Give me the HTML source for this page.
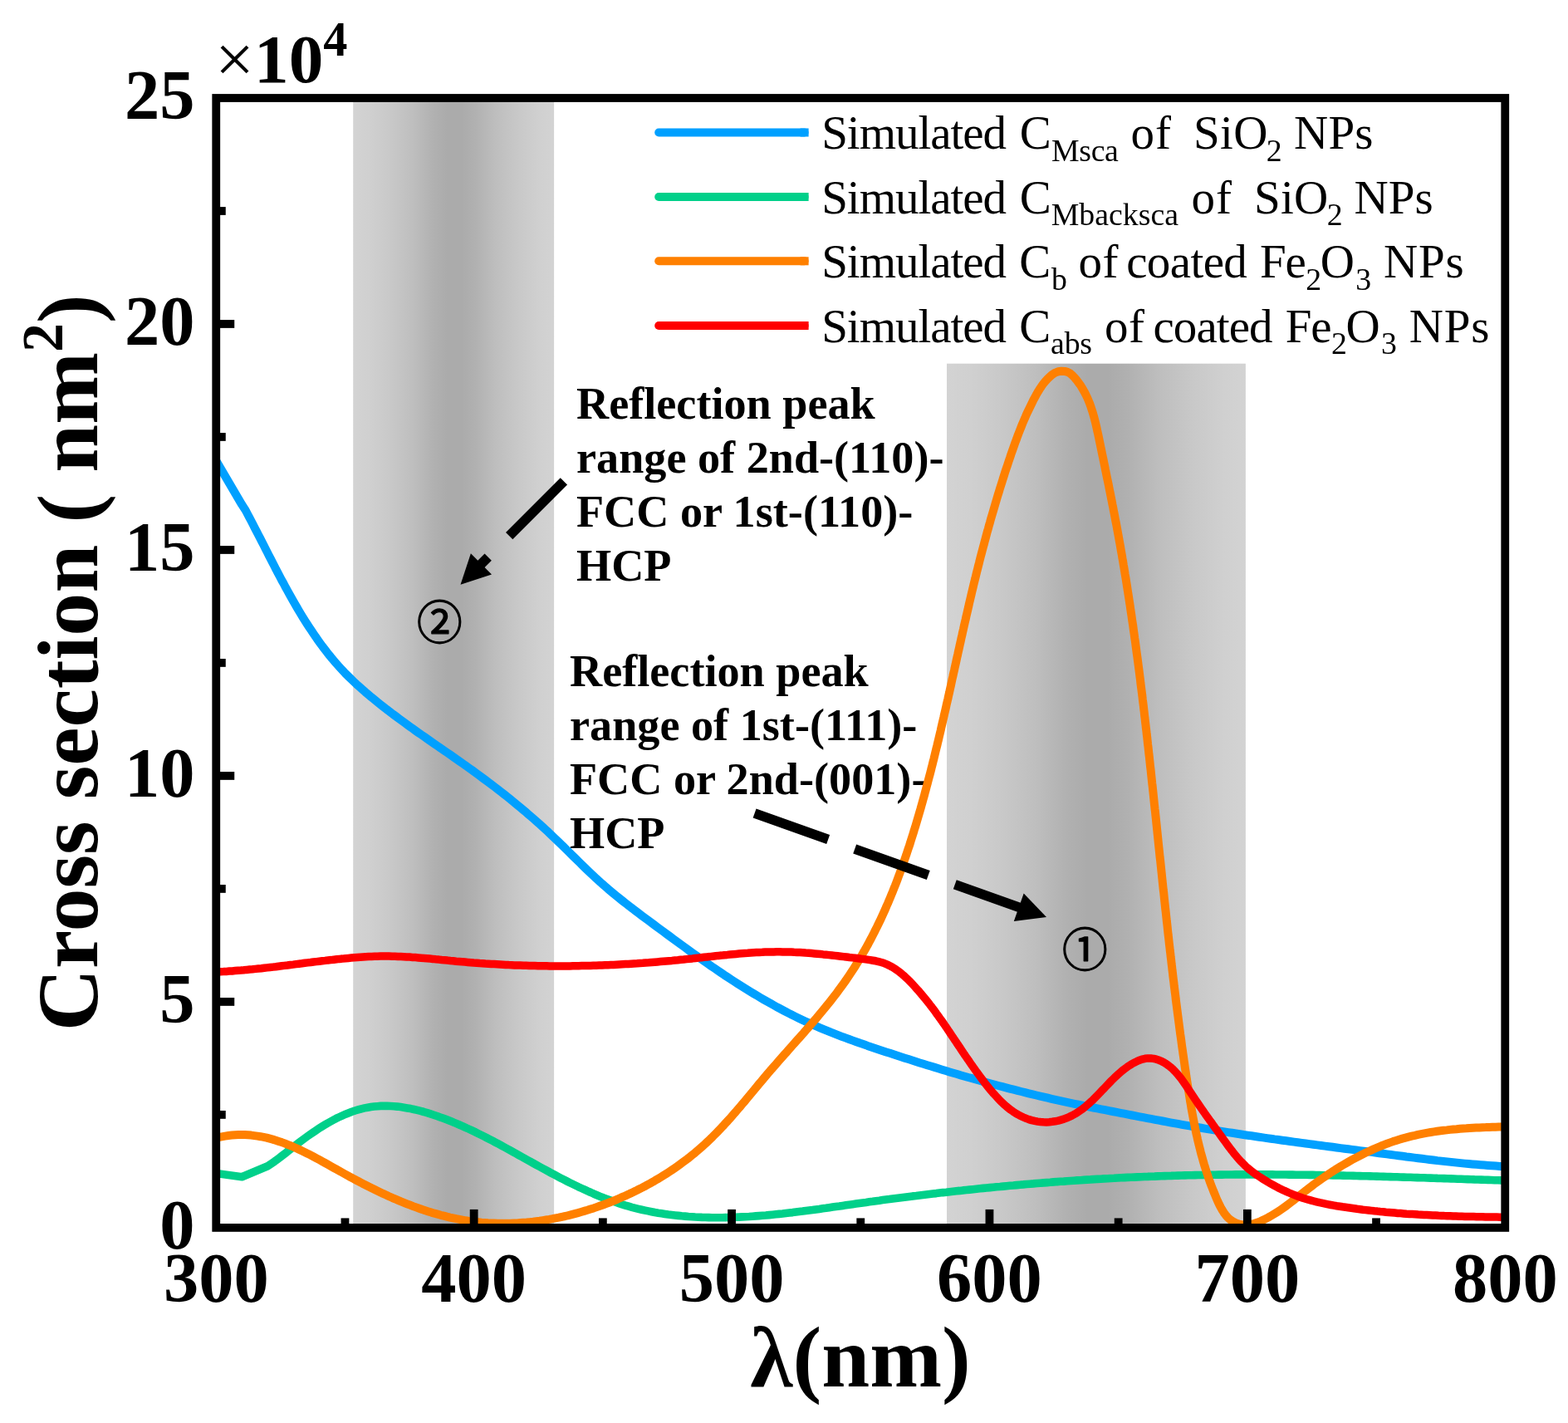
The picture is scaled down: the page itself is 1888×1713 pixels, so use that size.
<!DOCTYPE html>
<html lang="en"><head><meta charset="utf-8"><title>Cross section vs wavelength</title>
<style>html,body{margin:0;padding:0;background:#fff;}body{width:1888px;height:1713px;overflow:hidden;}svg{display:block;}text{font-family:"Liberation Serif","DejaVu Serif",serif;fill:#000;}.b{font-weight:bold;}.cjk{font-family:"Noto Sans CJK SC","Noto Sans CJK JP","DejaVu Sans",sans-serif;}</style></head><body>
<svg xmlns="http://www.w3.org/2000/svg" width="1888" height="1713" viewBox="0 0 1888 1713">
<defs>
<linearGradient id="g1" x1="0" y1="0" x2="1" y2="0"><stop offset="0" stop-color="#d3d3d3"/><stop offset="0.08" stop-color="#d0d0d0"/><stop offset="0.18" stop-color="#c9c9c9"/><stop offset="0.3" stop-color="#bebebe"/><stop offset="0.4" stop-color="#b1b1b1"/><stop offset="0.47" stop-color="#ababab"/><stop offset="0.54" stop-color="#ababab"/><stop offset="0.61" stop-color="#b1b1b1"/><stop offset="0.71" stop-color="#bebebe"/><stop offset="0.83" stop-color="#c9c9c9"/><stop offset="0.93" stop-color="#d0d0d0"/><stop offset="1" stop-color="#d3d3d3"/></linearGradient>
<clipPath id="plot"><rect x="260.25" y="118.00" width="1552.00" height="1359.90"/></clipPath>
</defs>
<rect width="1888" height="1713" fill="#ffffff"/>
<rect x="425.20" y="118.00" width="241.90" height="1359.90" fill="url(#g1)"/>
<rect x="1140.00" y="437.70" width="359.90" height="1040.20" fill="url(#g1)"/>
<text class="b" x="694.00" y="504.00" font-size="54.20">Reflection peak</text>
<text class="b" x="694.00" y="569.00" font-size="54.20">range of 2nd-(110)-</text>
<text class="b" x="694.00" y="634.30" font-size="54.20">FCC or 1st-(110)-</text>
<text class="b" x="694.00" y="698.80" font-size="54.20">HCP</text>
<text class="b" x="686.00" y="825.80" font-size="54.20">Reflection peak</text>
<text class="b" x="686.00" y="890.70" font-size="54.20">range of 1st-(111)-</text>
<text class="b" x="686.00" y="956.20" font-size="54.20">FCC or 2nd-(001)-</text>
<text class="b" x="686.00" y="1020.60" font-size="54.20">HCP</text>
<g clip-path="url(#plot)" fill="none" stroke-linejoin="round" stroke-linecap="butt">
<path d="M255.00 545.60 L260.20 554.60 L291.30 607.60 L295.80 614.50 L298.00 618.70 L300.20 622.80 L302.40 627.00 L304.60 631.20 L306.70 635.40 L308.90 639.60 L311.00 643.70 L313.20 647.90 L315.30 652.10 L317.50 656.30 L319.60 660.50 L321.80 664.70 L323.90 668.90 L326.10 673.10 L328.20 677.30 L330.40 681.50 L332.50 685.70 L334.70 689.80 L336.90 694.00 L339.10 698.20 L341.40 702.30 L343.60 706.50 L345.90 710.60 L348.10 714.70 L350.40 718.80 L352.80 723.00 L355.10 727.00 L357.50 731.10 L359.90 735.20 L362.30 739.20 L364.80 743.30 L367.30 747.30 L369.80 751.20 L372.40 755.20 L375.00 759.10 L377.60 763.00 L380.30 766.90 L383.00 770.80 L385.70 774.60 L388.50 778.40 L391.40 782.10 L394.20 785.80 L397.20 789.50 L400.10 793.10 L403.20 796.70 L406.30 800.20 L409.40 803.70 L412.60 807.20 L415.80 810.60 L419.10 813.90 L422.50 817.20 L425.90 820.50 L429.30 823.70 L432.80 826.80 L436.40 830.00 L439.90 833.10 L443.50 836.10 L447.10 839.20 L450.80 842.20 L454.40 845.10 L458.10 848.10 L461.80 851.00 L465.50 853.90 L469.30 856.70 L473.00 859.60 L476.80 862.40 L480.60 865.20 L484.40 868.00 L488.20 870.80 L492.00 873.60 L495.90 876.30 L499.70 879.10 L503.50 881.80 L507.40 884.50 L511.30 887.20 L515.10 889.90 L519.00 892.60 L522.90 895.30 L526.80 898.00 L530.60 900.70 L534.50 903.30 L538.40 906.00 L542.30 908.70 L546.10 911.40 L550.00 914.10 L553.90 916.80 L557.70 919.50 L561.60 922.30 L565.40 925.00 L569.20 927.70 L573.00 930.50 L576.80 933.30 L580.60 936.10 L584.40 938.90 L588.20 941.70 L591.90 944.50 L595.70 947.40 L599.40 950.20 L603.10 953.10 L606.80 956.00 L610.50 958.90 L614.20 961.90 L617.80 964.80 L621.40 967.80 L625.10 970.80 L628.70 973.80 L632.30 976.80 L635.80 979.90 L639.40 983.00 L642.90 986.00 L646.50 989.20 L650.00 992.30 L653.50 995.50 L656.90 998.60 L660.40 1001.80 L663.80 1005.10 L667.20 1008.30 L670.60 1011.60 L674.00 1014.90 L677.40 1018.10 L680.80 1021.50 L684.10 1024.80 L687.50 1028.10 L690.80 1031.40 L694.20 1034.70 L697.60 1038.00 L701.00 1041.30 L704.30 1044.60 L707.70 1047.90 L711.10 1051.10 L714.60 1054.40 L718.00 1057.60 L721.50 1060.70 L725.00 1063.90 L728.60 1067.00 L732.10 1070.10 L735.70 1073.10 L739.30 1076.10 L743.00 1079.10 L746.60 1082.00 L750.30 1085.00 L754.00 1087.90 L757.70 1090.80 L761.50 1093.60 L765.20 1096.50 L768.90 1099.30 L772.70 1102.20 L776.50 1105.00 L780.30 1107.80 L784.00 1110.60 L787.80 1113.40 L791.60 1116.20 L795.40 1119.00 L799.20 1121.80 L803.00 1124.60 L806.80 1127.40 L810.60 1130.20 L814.40 1133.00 L818.20 1135.80 L822.00 1138.50 L825.80 1141.30 L829.60 1144.10 L833.40 1146.80 L837.30 1149.50 L841.10 1152.30 L844.90 1155.00 L848.80 1157.70 L852.70 1160.40 L856.50 1163.10 L860.40 1165.70 L864.30 1168.40 L868.20 1171.00 L872.10 1173.70 L876.10 1176.30 L880.00 1178.90 L883.90 1181.40 L887.90 1184.00 L891.90 1186.50 L895.90 1189.00 L899.90 1191.50 L903.90 1194.00 L907.90 1196.40 L912.00 1198.80 L916.00 1201.20 L920.10 1203.60 L924.20 1205.90 L928.30 1208.20 L932.40 1210.50 L936.50 1212.80 L940.70 1215.00 L944.90 1217.20 L949.00 1219.40 L953.20 1221.50 L957.40 1223.60 L961.70 1225.70 L965.90 1227.70 L970.20 1229.70 L974.40 1231.60 L978.70 1233.60 L983.00 1235.40 L987.40 1237.30 L991.70 1239.10 L996.10 1240.90 L1000.40 1242.70 L1004.80 1244.40 L1009.20 1246.10 L1013.60 1247.80 L1018.00 1249.40 L1022.40 1251.00 L1026.80 1252.60 L1031.30 1254.20 L1035.70 1255.80 L1040.20 1257.30 L1044.60 1258.90 L1049.10 1260.40 L1053.60 1261.90 L1058.00 1263.40 L1062.50 1264.90 L1067.00 1266.40 L1071.50 1267.80 L1075.90 1269.30 L1080.40 1270.80 L1084.90 1272.20 L1089.40 1273.70 L1093.90 1275.10 L1098.40 1276.50 L1102.90 1278.00 L1107.40 1279.40 L1111.90 1280.80 L1116.40 1282.20 L1120.90 1283.60 L1125.40 1284.90 L1129.90 1286.30 L1134.40 1287.70 L1138.90 1289.00 L1143.40 1290.40 L1147.90 1291.70 L1152.50 1293.00 L1157.00 1294.40 L1161.50 1295.70 L1166.00 1297.00 L1170.60 1298.20 L1175.10 1299.50 L1179.60 1300.80 L1184.20 1302.10 L1188.70 1303.30 L1193.20 1304.50 L1197.80 1305.80 L1202.30 1307.00 L1206.90 1308.20 L1211.40 1309.40 L1216.00 1310.60 L1220.50 1311.70 L1225.10 1312.90 L1229.60 1314.00 L1234.20 1315.20 L1238.80 1316.30 L1243.30 1317.40 L1247.90 1318.50 L1252.50 1319.60 L1257.10 1320.60 L1261.60 1321.70 L1266.20 1322.80 L1270.80 1323.80 L1275.40 1324.80 L1280.00 1325.80 L1284.60 1326.80 L1289.20 1327.80 L1293.80 1328.80 L1298.40 1329.70 L1303.00 1330.70 L1307.60 1331.60 L1312.20 1332.50 L1316.80 1333.50 L1321.40 1334.40 L1326.00 1335.30 L1330.60 1336.20 L1335.20 1337.10 L1339.80 1338.00 L1344.50 1338.90 L1349.10 1339.80 L1353.70 1340.70 L1358.30 1341.60 L1362.90 1342.50 L1367.50 1343.40 L1372.20 1344.30 L1376.80 1345.20 L1381.40 1346.10 L1386.00 1346.90 L1390.70 1347.80 L1395.30 1348.70 L1399.90 1349.50 L1404.50 1350.40 L1409.20 1351.30 L1413.80 1352.10 L1418.40 1352.90 L1423.10 1353.80 L1427.70 1354.60 L1432.40 1355.40 L1437.00 1356.20 L1441.60 1357.00 L1446.30 1357.80 L1450.90 1358.60 L1455.60 1359.40 L1460.20 1360.10 L1464.90 1360.90 L1469.50 1361.60 L1474.20 1362.40 L1478.80 1363.10 L1483.50 1363.80 L1488.10 1364.50 L1492.80 1365.20 L1497.40 1366.00 L1502.10 1366.70 L1506.80 1367.30 L1511.40 1368.00 L1516.10 1368.70 L1520.70 1369.40 L1525.40 1370.10 L1530.10 1370.70 L1534.70 1371.40 L1539.40 1372.00 L1544.10 1372.70 L1548.70 1373.30 L1553.40 1374.00 L1558.10 1374.60 L1562.70 1375.20 L1567.40 1375.90 L1572.10 1376.50 L1576.70 1377.10 L1581.40 1377.80 L1586.10 1378.40 L1590.70 1379.00 L1595.40 1379.60 L1600.10 1380.20 L1604.70 1380.80 L1609.40 1381.50 L1614.10 1382.10 L1618.80 1382.70 L1623.40 1383.30 L1628.10 1383.90 L1632.80 1384.50 L1637.40 1385.10 L1642.10 1385.70 L1646.80 1386.30 L1651.40 1386.90 L1656.10 1387.60 L1660.80 1388.20 L1665.50 1388.80 L1670.10 1389.40 L1674.80 1390.00 L1679.50 1390.60 L1684.10 1391.20 L1688.80 1391.80 L1693.50 1392.50 L1698.10 1393.00 L1702.80 1393.60 L1707.50 1394.20 L1712.20 1394.80 L1716.80 1395.40 L1721.50 1396.00 L1726.20 1396.50 L1730.80 1397.10 L1735.50 1397.60 L1740.20 1398.10 L1744.90 1398.60 L1749.60 1399.10 L1754.20 1399.60 L1758.90 1400.10 L1763.60 1400.60 L1768.30 1401.00 L1773.00 1401.40 L1777.70 1401.80 L1782.40 1402.20 L1787.10 1402.60 L1791.80 1403.00 L1796.50 1403.30 L1801.20 1403.60 L1805.90 1403.90 L1810.60 1404.20 L1815.30 1404.40 L1820.00 1404.70" stroke="#00a0ff" stroke-width="10.00"/>
<path d="M255.00 1411.80 L260.20 1412.50 L291.30 1416.80 L322.30 1403.80 L327.20 1400.50 L330.50 1398.20 L333.70 1395.80 L337.00 1393.40 L340.20 1390.90 L343.50 1388.40 L346.70 1385.80 L350.00 1383.20 L353.30 1380.60 L356.60 1378.10 L359.90 1375.50 L363.20 1373.00 L366.60 1370.50 L370.00 1368.00 L373.40 1365.60 L376.90 1363.20 L380.30 1360.90 L383.80 1358.60 L387.30 1356.40 L390.90 1354.20 L394.40 1352.10 L398.00 1350.10 L401.60 1348.10 L405.20 1346.20 L408.90 1344.50 L412.50 1342.80 L416.20 1341.20 L420.00 1339.70 L423.70 1338.30 L427.50 1337.00 L431.20 1335.90 L435.10 1334.80 L438.90 1333.90 L442.70 1333.20 L446.60 1332.50 L450.50 1332.00 L454.50 1331.70 L458.40 1331.40 L462.40 1331.30 L466.30 1331.40 L470.30 1331.50 L474.30 1331.80 L478.30 1332.10 L482.30 1332.60 L486.30 1333.20 L490.40 1333.90 L494.40 1334.60 L498.40 1335.50 L502.40 1336.40 L506.40 1337.40 L510.40 1338.50 L514.40 1339.70 L518.30 1340.90 L522.30 1342.20 L526.20 1343.50 L530.10 1344.90 L534.00 1346.30 L537.90 1347.80 L541.70 1349.30 L545.50 1350.80 L549.30 1352.40 L553.00 1354.00 L556.80 1355.60 L560.50 1357.30 L564.20 1359.00 L567.80 1360.70 L571.50 1362.40 L575.10 1364.20 L578.70 1366.00 L582.30 1367.80 L585.90 1369.60 L589.50 1371.50 L593.10 1373.30 L596.60 1375.20 L600.20 1377.10 L603.70 1379.00 L607.20 1380.90 L610.80 1382.90 L614.30 1384.80 L617.80 1386.70 L621.30 1388.70 L624.90 1390.70 L628.40 1392.60 L631.90 1394.60 L635.50 1396.60 L639.00 1398.50 L642.50 1400.50 L646.10 1402.50 L649.60 1404.40 L653.20 1406.40 L656.80 1408.30 L660.40 1410.30 L663.90 1412.20 L667.50 1414.10 L671.10 1416.00 L674.70 1417.90 L678.40 1419.80 L682.00 1421.60 L685.60 1423.50 L689.30 1425.30 L692.90 1427.00 L696.60 1428.80 L700.30 1430.50 L704.00 1432.20 L707.70 1433.90 L711.40 1435.50 L715.10 1437.20 L718.80 1438.70 L722.60 1440.30 L726.30 1441.80 L730.10 1443.20 L733.90 1444.60 L737.70 1446.00 L741.60 1447.30 L745.40 1448.60 L749.20 1449.90 L753.10 1451.10 L757.00 1452.20 L760.90 1453.30 L764.80 1454.30 L768.80 1455.30 L772.70 1456.20 L776.70 1457.10 L780.60 1457.90 L784.60 1458.70 L788.60 1459.50 L792.60 1460.20 L796.60 1460.80 L800.70 1461.40 L804.70 1462.00 L808.70 1462.50 L812.80 1463.00 L816.80 1463.40 L820.90 1463.80 L824.90 1464.10 L829.00 1464.50 L833.10 1464.70 L837.10 1465.00 L841.20 1465.20 L845.20 1465.40 L849.30 1465.50 L853.40 1465.60 L857.40 1465.70 L861.50 1465.70 L865.50 1465.70 L869.60 1465.70 L873.60 1465.60 L877.70 1465.50 L881.70 1465.40 L885.80 1465.30 L889.80 1465.10 L893.80 1464.90 L897.90 1464.70 L901.90 1464.50 L906.00 1464.20 L910.00 1463.90 L914.00 1463.60 L918.10 1463.30 L922.10 1463.00 L926.10 1462.60 L930.10 1462.20 L934.20 1461.80 L938.20 1461.40 L942.20 1461.00 L946.20 1460.50 L950.30 1460.00 L954.30 1459.60 L958.30 1459.10 L962.30 1458.60 L966.40 1458.10 L970.40 1457.50 L974.40 1457.00 L978.40 1456.50 L982.40 1455.90 L986.50 1455.40 L990.50 1454.80 L994.50 1454.30 L998.50 1453.70 L1002.50 1453.10 L1006.50 1452.50 L1010.60 1452.00 L1014.60 1451.40 L1018.60 1450.80 L1022.60 1450.20 L1026.60 1449.70 L1030.70 1449.10 L1034.70 1448.50 L1038.70 1447.90 L1042.70 1447.40 L1046.70 1446.80 L1050.80 1446.30 L1054.80 1445.70 L1058.80 1445.20 L1062.80 1444.60 L1066.90 1444.10 L1070.90 1443.60 L1074.90 1443.00 L1078.90 1442.50 L1083.00 1442.00 L1087.00 1441.50 L1091.00 1441.00 L1095.00 1440.50 L1099.10 1439.90 L1103.10 1439.50 L1107.10 1439.00 L1111.20 1438.50 L1115.20 1438.00 L1119.20 1437.50 L1123.20 1437.00 L1127.30 1436.60 L1131.30 1436.10 L1135.30 1435.60 L1139.40 1435.20 L1143.40 1434.70 L1147.40 1434.30 L1151.50 1433.80 L1155.50 1433.40 L1159.50 1432.90 L1163.60 1432.50 L1167.60 1432.10 L1171.60 1431.70 L1175.70 1431.20 L1179.70 1430.80 L1183.80 1430.40 L1187.80 1430.00 L1191.80 1429.60 L1195.90 1429.20 L1199.90 1428.80 L1204.00 1428.50 L1208.00 1428.10 L1212.00 1427.70 L1216.10 1427.30 L1220.10 1427.00 L1224.20 1426.60 L1228.20 1426.20 L1232.20 1425.90 L1236.30 1425.50 L1240.30 1425.20 L1244.40 1424.90 L1248.40 1424.50 L1252.40 1424.20 L1256.50 1423.90 L1260.50 1423.60 L1264.60 1423.30 L1268.60 1422.90 L1272.70 1422.60 L1276.70 1422.30 L1280.80 1422.10 L1284.80 1421.80 L1288.90 1421.50 L1292.90 1421.20 L1296.90 1420.90 L1301.00 1420.70 L1305.00 1420.40 L1309.10 1420.10 L1313.10 1419.90 L1317.20 1419.60 L1321.20 1419.40 L1325.30 1419.20 L1329.30 1418.90 L1333.40 1418.70 L1337.40 1418.50 L1341.50 1418.30 L1345.50 1418.00 L1349.60 1417.80 L1353.60 1417.60 L1357.70 1417.40 L1361.70 1417.30 L1365.80 1417.10 L1369.80 1416.90 L1373.90 1416.70 L1377.90 1416.50 L1382.00 1416.40 L1386.00 1416.20 L1390.10 1416.10 L1394.20 1415.90 L1398.20 1415.80 L1402.30 1415.60 L1406.30 1415.50 L1410.40 1415.40 L1414.40 1415.20 L1418.50 1415.10 L1422.50 1415.00 L1426.60 1414.90 L1430.60 1414.80 L1434.70 1414.70 L1438.70 1414.60 L1442.80 1414.50 L1446.90 1414.50 L1450.90 1414.40 L1455.00 1414.30 L1459.00 1414.30 L1463.10 1414.20 L1467.10 1414.10 L1471.20 1414.10 L1475.20 1414.00 L1479.30 1414.00 L1483.40 1414.00 L1487.40 1413.90 L1491.50 1413.90 L1495.50 1413.90 L1499.60 1413.90 L1503.60 1413.90 L1507.70 1413.90 L1511.80 1413.90 L1515.80 1413.90 L1519.90 1413.90 L1523.90 1413.90 L1528.00 1413.90 L1532.00 1413.90 L1536.10 1414.00 L1540.20 1414.00 L1544.20 1414.00 L1548.30 1414.00 L1552.30 1414.10 L1556.40 1414.10 L1560.40 1414.20 L1564.50 1414.20 L1568.60 1414.30 L1572.60 1414.30 L1576.70 1414.40 L1580.70 1414.40 L1584.80 1414.50 L1588.80 1414.60 L1592.90 1414.70 L1597.00 1414.70 L1601.00 1414.80 L1605.10 1414.90 L1609.10 1415.00 L1613.20 1415.00 L1617.20 1415.10 L1621.30 1415.20 L1625.40 1415.30 L1629.40 1415.40 L1633.50 1415.50 L1637.50 1415.60 L1641.60 1415.70 L1645.60 1415.80 L1649.70 1415.90 L1653.80 1416.00 L1657.80 1416.10 L1661.90 1416.30 L1665.90 1416.40 L1670.00 1416.50 L1674.00 1416.60 L1678.10 1416.70 L1682.20 1416.80 L1686.20 1417.00 L1690.30 1417.10 L1694.30 1417.20 L1698.40 1417.30 L1702.40 1417.50 L1706.50 1417.60 L1710.50 1417.70 L1714.60 1417.80 L1718.70 1418.00 L1722.70 1418.10 L1726.80 1418.20 L1730.80 1418.40 L1734.90 1418.50 L1738.90 1418.60 L1743.00 1418.80 L1747.00 1418.90 L1751.10 1419.00 L1755.10 1419.20 L1759.20 1419.30 L1763.30 1419.50 L1767.30 1419.60 L1771.40 1419.70 L1775.40 1419.90 L1779.50 1420.00 L1783.50 1420.10 L1787.60 1420.30 L1791.60 1420.40 L1795.70 1420.50 L1799.70 1420.70 L1803.80 1420.80 L1807.80 1420.90 L1811.90 1421.10 L1815.90 1421.20 L1820.00 1421.30" stroke="#00d08a" stroke-width="9.60"/>
<path d="M254.50 1371.30 L258.70 1370.10 L262.80 1369.10 L267.00 1368.30 L271.00 1367.60 L275.10 1367.00 L279.10 1366.60 L283.10 1366.30 L287.00 1366.10 L290.90 1366.10 L294.80 1366.10 L298.60 1366.30 L302.50 1366.60 L306.20 1367.10 L310.00 1367.60 L313.70 1368.20 L317.40 1368.90 L321.10 1369.70 L324.80 1370.70 L328.40 1371.60 L332.00 1372.70 L335.60 1373.90 L339.20 1375.10 L342.80 1376.40 L346.30 1377.80 L349.80 1379.20 L353.40 1380.70 L356.90 1382.30 L360.40 1383.90 L363.80 1385.50 L367.30 1387.20 L370.80 1388.90 L374.20 1390.70 L377.70 1392.50 L381.10 1394.30 L384.60 1396.20 L388.00 1398.10 L391.50 1400.00 L394.90 1401.90 L398.30 1403.80 L401.80 1405.80 L405.20 1407.70 L408.70 1409.60 L412.10 1411.50 L415.60 1413.50 L419.10 1415.40 L422.50 1417.30 L426.00 1419.10 L429.50 1421.00 L433.00 1422.80 L436.50 1424.70 L440.10 1426.50 L443.60 1428.30 L447.10 1430.00 L450.70 1431.80 L454.20 1433.50 L457.80 1435.20 L461.30 1436.90 L464.90 1438.50 L468.50 1440.20 L472.10 1441.80 L475.70 1443.30 L479.30 1444.90 L482.90 1446.40 L486.50 1447.80 L490.20 1449.30 L493.80 1450.70 L497.40 1452.10 L501.10 1453.40 L504.80 1454.70 L508.40 1456.00 L512.10 1457.20 L515.80 1458.40 L519.50 1459.60 L523.20 1460.70 L526.90 1461.70 L530.70 1462.80 L534.40 1463.70 L538.10 1464.70 L541.90 1465.60 L545.70 1466.40 L549.40 1467.20 L553.20 1467.90 L557.00 1468.60 L560.80 1469.30 L564.60 1469.90 L568.40 1470.40 L572.20 1470.90 L576.10 1471.30 L579.90 1471.70 L583.70 1472.00 L587.60 1472.30 L591.50 1472.50 L595.30 1472.60 L599.20 1472.80 L603.10 1472.80 L606.90 1472.80 L610.80 1472.80 L614.70 1472.70 L618.60 1472.50 L622.50 1472.40 L626.40 1472.10 L630.30 1471.80 L634.10 1471.50 L638.00 1471.10 L641.90 1470.70 L645.80 1470.20 L649.70 1469.70 L653.60 1469.10 L657.40 1468.50 L661.30 1467.90 L665.20 1467.20 L669.00 1466.40 L672.90 1465.70 L676.70 1464.80 L680.60 1464.00 L684.40 1463.10 L688.20 1462.10 L692.00 1461.10 L695.80 1460.10 L699.60 1459.00 L703.40 1457.90 L707.20 1456.80 L711.00 1455.60 L714.70 1454.40 L718.40 1453.10 L722.10 1451.80 L725.90 1450.50 L729.50 1449.10 L733.20 1447.70 L736.90 1446.30 L740.50 1444.80 L744.10 1443.30 L747.70 1441.70 L751.30 1440.20 L754.90 1438.60 L758.40 1436.90 L762.00 1435.30 L765.50 1433.60 L769.00 1431.80 L772.40 1430.10 L775.90 1428.30 L779.30 1426.40 L782.70 1424.60 L786.10 1422.70 L789.40 1420.70 L792.70 1418.80 L796.10 1416.80 L799.30 1414.80 L802.60 1412.70 L805.80 1410.60 L809.00 1408.50 L812.20 1406.30 L815.40 1404.10 L818.50 1401.90 L821.60 1399.60 L824.70 1397.30 L827.80 1395.00 L830.80 1392.60 L833.80 1390.20 L836.80 1387.80 L839.70 1385.30 L842.60 1382.80 L845.50 1380.20 L848.40 1377.60 L851.20 1375.00 L854.00 1372.40 L856.80 1369.70 L859.50 1366.90 L862.20 1364.20 L865.00 1361.40 L867.60 1358.60 L870.30 1355.80 L872.90 1352.90 L875.60 1350.00 L878.20 1347.20 L880.80 1344.20 L883.30 1341.30 L885.90 1338.40 L888.40 1335.40 L891.00 1332.40 L893.50 1329.40 L896.10 1326.40 L898.60 1323.40 L901.10 1320.40 L903.60 1317.40 L906.10 1314.40 L908.60 1311.40 L911.10 1308.30 L913.60 1305.30 L916.20 1302.30 L918.70 1299.30 L921.20 1296.30 L923.70 1293.30 L926.30 1290.30 L928.80 1287.30 L931.40 1284.40 L934.00 1281.40 L936.50 1278.50 L939.10 1275.50 L941.70 1272.60 L944.30 1269.70 L946.90 1266.80 L949.50 1263.80 L952.00 1260.90 L954.60 1258.00 L957.20 1255.10 L959.80 1252.20 L962.40 1249.30 L965.00 1246.40 L967.60 1243.50 L970.10 1240.50 L972.70 1237.60 L975.20 1234.70 L977.80 1231.70 L980.30 1228.80 L982.80 1225.90 L985.30 1222.90 L987.80 1219.90 L990.30 1216.90 L992.80 1213.90 L995.20 1210.90 L997.70 1207.90 L1000.10 1204.90 L1002.50 1201.80 L1004.80 1198.80 L1007.20 1195.70 L1009.50 1192.60 L1011.80 1189.40 L1014.10 1186.30 L1016.40 1183.10 L1018.60 1180.00 L1020.80 1176.70 L1023.00 1173.50 L1025.10 1170.30 L1027.30 1167.00 L1029.40 1163.70 L1031.40 1160.40 L1033.50 1157.00 L1035.50 1153.70 L1037.50 1150.30 L1039.40 1146.90 L1041.40 1143.50 L1043.30 1140.10 L1045.20 1136.70 L1047.00 1133.20 L1048.90 1129.80 L1050.70 1126.30 L1052.50 1122.80 L1054.20 1119.30 L1056.00 1115.80 L1057.70 1112.30 L1059.40 1108.80 L1061.00 1105.30 L1062.70 1101.70 L1064.30 1098.20 L1065.90 1094.60 L1067.40 1091.00 L1069.00 1087.50 L1070.50 1083.90 L1072.00 1080.30 L1073.50 1076.70 L1075.00 1073.10 L1076.40 1069.40 L1077.90 1065.80 L1079.30 1062.20 L1080.70 1058.50 L1082.00 1054.90 L1083.40 1051.20 L1084.70 1047.60 L1086.00 1043.90 L1087.30 1040.20 L1088.60 1036.60 L1089.90 1032.90 L1091.20 1029.20 L1092.40 1025.50 L1093.60 1021.80 L1094.90 1018.10 L1096.10 1014.40 L1097.20 1010.70 L1098.40 1007.00 L1099.60 1003.30 L1100.70 999.50 L1101.90 995.80 L1103.00 992.10 L1104.10 988.40 L1105.20 984.60 L1106.30 980.90 L1107.40 977.10 L1108.50 973.40 L1109.50 969.70 L1110.60 965.90 L1111.60 962.20 L1112.70 958.40 L1113.70 954.60 L1114.70 950.90 L1115.70 947.10 L1116.70 943.40 L1117.70 939.60 L1118.70 935.80 L1119.70 932.10 L1120.70 928.30 L1121.60 924.50 L1122.60 920.70 L1123.50 917.00 L1124.50 913.20 L1125.40 909.40 L1126.30 905.60 L1127.20 901.80 L1128.20 898.00 L1129.10 894.20 L1130.00 890.50 L1130.90 886.70 L1131.80 882.90 L1132.70 879.10 L1133.50 875.30 L1134.40 871.50 L1135.30 867.70 L1136.20 863.90 L1137.00 860.10 L1137.90 856.30 L1138.80 852.50 L1139.60 848.70 L1140.50 844.90 L1141.40 841.10 L1142.20 837.30 L1143.10 833.50 L1143.90 829.70 L1144.80 825.80 L1145.60 822.00 L1146.40 818.20 L1147.30 814.40 L1148.10 810.60 L1149.00 806.80 L1149.80 803.00 L1150.70 799.20 L1151.50 795.40 L1152.30 791.60 L1153.20 787.80 L1154.00 784.00 L1154.90 780.20 L1155.70 776.30 L1156.60 772.50 L1157.40 768.70 L1158.30 764.90 L1159.10 761.10 L1160.00 757.30 L1160.80 753.50 L1161.70 749.70 L1162.60 745.90 L1163.40 742.10 L1164.30 738.30 L1165.20 734.50 L1166.10 730.70 L1166.90 726.90 L1167.80 723.10 L1168.70 719.30 L1169.60 715.50 L1170.50 711.70 L1171.40 708.00 L1172.30 704.20 L1173.20 700.40 L1174.20 696.60 L1175.10 692.80 L1176.00 689.00 L1177.00 685.20 L1177.90 681.50 L1178.90 677.70 L1179.80 673.90 L1180.80 670.10 L1181.80 666.40 L1182.80 662.60 L1183.80 658.80 L1184.80 655.10 L1185.80 651.30 L1186.80 647.60 L1187.80 643.80 L1188.80 640.00 L1189.90 636.30 L1190.90 632.50 L1192.00 628.80 L1193.00 625.00 L1194.10 621.30 L1195.20 617.60 L1196.30 613.80 L1197.40 610.10 L1198.50 606.40 L1199.60 602.60 L1200.70 598.90 L1201.80 595.20 L1203.00 591.40 L1204.10 587.70 L1205.30 584.00 L1206.50 580.30 L1207.60 576.60 L1208.80 572.90 L1210.00 569.10 L1211.20 565.40 L1212.50 561.70 L1213.70 558.00 L1214.90 554.30 L1216.20 550.60 L1217.40 546.90 L1218.70 543.30 L1220.00 539.60 L1221.30 535.90 L1222.60 532.20 L1224.00 528.60 L1225.30 524.90 L1226.70 521.30 L1228.10 517.70 L1229.60 514.00 L1231.00 510.40 L1232.50 506.90 L1234.10 503.30 L1235.60 499.70 L1237.20 496.20 L1238.90 492.70 L1240.60 489.20 L1242.30 485.70 L1244.00 482.20 L1245.80 478.80 L1247.70 475.30 L1249.60 472.00 L1251.70 468.60 L1253.80 465.40 L1256.10 462.20 L1258.60 459.10 L1261.30 456.10 L1264.20 453.30 L1267.30 450.70 L1270.70 448.60 L1274.40 447.30 L1278.10 446.70 L1281.90 446.90 L1285.50 447.90 L1288.80 449.70 L1291.70 452.30 L1294.40 455.20 L1297.00 458.30 L1299.30 461.50 L1301.60 464.70 L1303.60 468.10 L1305.50 471.40 L1307.30 474.90 L1309.00 478.40 L1310.50 481.90 L1312.00 485.50 L1313.30 489.20 L1314.50 492.80 L1315.70 496.60 L1316.80 500.30 L1317.80 504.10 L1318.80 507.90 L1319.70 511.70 L1320.60 515.50 L1321.40 519.40 L1322.30 523.20 L1323.10 527.10 L1323.90 531.00 L1324.70 534.80 L1325.50 538.70 L1326.30 542.50 L1327.10 546.40 L1327.90 550.20 L1328.70 554.00 L1329.50 557.90 L1330.30 561.70 L1331.00 565.50 L1331.80 569.30 L1332.60 573.20 L1333.40 577.00 L1334.20 580.80 L1335.00 584.60 L1335.70 588.40 L1336.50 592.30 L1337.30 596.10 L1338.00 599.90 L1338.80 603.70 L1339.50 607.50 L1340.30 611.30 L1341.00 615.10 L1341.80 619.00 L1342.50 622.80 L1343.20 626.60 L1344.00 630.40 L1344.70 634.20 L1345.40 638.00 L1346.10 641.80 L1346.80 645.70 L1347.50 649.50 L1348.20 653.30 L1348.90 657.10 L1349.50 660.90 L1350.20 664.80 L1350.90 668.60 L1351.50 672.40 L1352.20 676.20 L1352.80 680.10 L1353.50 683.90 L1354.10 687.70 L1354.70 691.60 L1355.40 695.40 L1356.00 699.20 L1356.60 703.10 L1357.20 706.90 L1357.80 710.70 L1358.40 714.60 L1359.00 718.40 L1359.60 722.30 L1360.20 726.10 L1360.80 730.00 L1361.30 733.80 L1361.90 737.60 L1362.50 741.50 L1363.00 745.30 L1363.60 749.20 L1364.20 753.00 L1364.70 756.90 L1365.20 760.70 L1365.80 764.60 L1366.30 768.50 L1366.90 772.30 L1367.40 776.20 L1367.90 780.00 L1368.40 783.90 L1368.90 787.70 L1369.50 791.60 L1370.00 795.50 L1370.50 799.30 L1371.00 803.20 L1371.50 807.00 L1372.00 810.90 L1372.50 814.80 L1373.00 818.60 L1373.40 822.50 L1373.90 826.40 L1374.40 830.20 L1374.90 834.10 L1375.40 838.00 L1375.80 841.80 L1376.30 845.70 L1376.80 849.60 L1377.20 853.40 L1377.70 857.30 L1378.10 861.20 L1378.60 865.10 L1379.00 868.90 L1379.50 872.80 L1379.90 876.70 L1380.40 880.50 L1380.80 884.40 L1381.30 888.30 L1381.70 892.20 L1382.10 896.10 L1382.60 899.90 L1383.00 903.80 L1383.40 907.70 L1383.90 911.60 L1384.30 915.40 L1384.70 919.30 L1385.10 923.20 L1385.60 927.10 L1386.00 931.00 L1386.40 934.80 L1386.80 938.70 L1387.20 942.60 L1387.70 946.50 L1388.10 950.40 L1388.50 954.20 L1388.90 958.10 L1389.30 962.00 L1389.70 965.90 L1390.10 969.80 L1390.50 973.60 L1391.00 977.50 L1391.40 981.40 L1391.80 985.30 L1392.20 989.20 L1392.60 993.10 L1393.00 996.90 L1393.40 1000.80 L1393.80 1004.70 L1394.20 1008.60 L1394.60 1012.50 L1395.00 1016.40 L1395.40 1020.20 L1395.80 1024.10 L1396.20 1028.00 L1396.60 1031.90 L1397.10 1035.80 L1397.50 1039.70 L1397.90 1043.50 L1398.30 1047.40 L1398.70 1051.30 L1399.10 1055.20 L1399.50 1059.10 L1399.90 1063.00 L1400.30 1066.80 L1400.70 1070.70 L1401.20 1074.60 L1401.60 1078.50 L1402.00 1082.40 L1402.40 1086.20 L1402.80 1090.10 L1403.20 1094.00 L1403.70 1097.90 L1404.10 1101.80 L1404.50 1105.60 L1404.90 1109.50 L1405.40 1113.40 L1405.80 1117.30 L1406.20 1121.20 L1406.60 1125.00 L1407.10 1128.90 L1407.50 1132.80 L1407.90 1136.70 L1408.40 1140.60 L1408.80 1144.40 L1409.30 1148.30 L1409.70 1152.20 L1410.20 1156.10 L1410.60 1159.90 L1411.10 1163.80 L1411.50 1167.70 L1412.00 1171.50 L1412.40 1175.40 L1412.90 1179.30 L1413.40 1183.20 L1413.80 1187.00 L1414.30 1190.90 L1414.80 1194.80 L1415.30 1198.60 L1415.70 1202.50 L1416.20 1206.40 L1416.70 1210.20 L1417.20 1214.10 L1417.70 1218.00 L1418.20 1221.80 L1418.70 1225.70 L1419.20 1229.60 L1419.70 1233.40 L1420.20 1237.30 L1420.70 1241.10 L1421.20 1245.00 L1421.80 1248.90 L1422.30 1252.70 L1422.80 1256.60 L1423.30 1260.40 L1423.90 1264.30 L1424.40 1268.10 L1425.00 1272.00 L1425.50 1275.80 L1426.10 1279.70 L1426.60 1283.50 L1427.20 1287.40 L1427.80 1291.20 L1428.30 1295.10 L1428.90 1298.90 L1429.50 1302.80 L1430.10 1306.60 L1430.70 1310.50 L1431.30 1314.30 L1431.90 1318.10 L1432.50 1322.00 L1433.10 1325.80 L1433.80 1329.60 L1434.40 1333.50 L1435.10 1337.30 L1435.80 1341.10 L1436.50 1344.90 L1437.20 1348.80 L1438.00 1352.60 L1438.70 1356.40 L1439.50 1360.20 L1440.30 1364.00 L1441.20 1367.80 L1442.00 1371.60 L1442.90 1375.40 L1443.80 1379.10 L1444.80 1382.90 L1445.70 1386.70 L1446.70 1390.40 L1447.80 1394.20 L1448.80 1397.90 L1449.90 1401.70 L1451.10 1405.40 L1452.20 1409.10 L1453.50 1412.90 L1454.70 1416.60 L1456.00 1420.30 L1457.30 1424.00 L1458.70 1427.70 L1460.10 1431.30 L1461.60 1435.00 L1463.10 1438.70 L1464.60 1442.30 L1466.20 1446.00 L1467.90 1449.60 L1469.70 1453.10 L1471.60 1456.50 L1473.60 1459.70 L1475.90 1462.80 L1478.40 1465.60 L1481.10 1468.10 L1484.10 1470.20 L1487.40 1472.00 L1491.10 1473.40 L1494.90 1474.30 L1498.90 1474.70 L1502.80 1474.50 L1506.70 1473.90 L1510.50 1472.80 L1514.30 1471.50 L1517.90 1470.00 L1521.50 1468.40 L1525.00 1466.60 L1528.50 1464.80 L1531.90 1462.80 L1535.20 1460.80 L1538.50 1458.70 L1541.70 1456.60 L1544.90 1454.40 L1548.10 1452.10 L1551.20 1449.80 L1554.30 1447.40 L1557.40 1445.00 L1560.50 1442.60 L1563.50 1440.20 L1566.60 1437.80 L1569.60 1435.40 L1572.70 1432.90 L1575.80 1430.60 L1578.90 1428.20 L1582.00 1425.80 L1585.20 1423.50 L1588.40 1421.20 L1591.60 1419.00 L1594.80 1416.70 L1598.00 1414.60 L1601.20 1412.40 L1604.50 1410.30 L1607.80 1408.10 L1611.10 1406.10 L1614.40 1404.00 L1617.80 1402.00 L1621.10 1400.10 L1624.50 1398.10 L1627.90 1396.20 L1631.30 1394.40 L1634.80 1392.60 L1638.20 1390.80 L1641.70 1389.00 L1645.20 1387.30 L1648.70 1385.70 L1652.20 1384.10 L1655.80 1382.50 L1659.30 1381.00 L1662.90 1379.50 L1666.50 1378.10 L1670.10 1376.70 L1673.80 1375.40 L1677.40 1374.10 L1681.10 1372.90 L1684.80 1371.70 L1688.50 1370.60 L1692.30 1369.60 L1696.00 1368.60 L1699.80 1367.60 L1703.60 1366.80 L1707.40 1365.90 L1711.20 1365.10 L1715.00 1364.40 L1718.90 1363.70 L1722.70 1363.00 L1726.60 1362.40 L1730.50 1361.80 L1734.30 1361.30 L1738.20 1360.80 L1742.10 1360.40 L1746.00 1359.90 L1749.90 1359.50 L1753.80 1359.20 L1757.80 1358.80 L1761.70 1358.50 L1765.60 1358.30 L1769.50 1358.00 L1773.40 1357.80 L1777.30 1357.60 L1781.20 1357.40 L1785.10 1357.20 L1789.00 1357.10 L1792.90 1356.90 L1796.80 1356.80 L1800.70 1356.70 L1804.50 1356.60 L1808.40 1356.50 L1812.20 1356.40 L1816.10 1356.30 L1819.90 1356.30" stroke="#ff8000" stroke-width="10.00"/>
<path d="M255.00 1170.20 L258.50 1170.10 L262.00 1169.90 L265.60 1169.70 L269.10 1169.60 L272.60 1169.40 L276.10 1169.10 L279.60 1168.90 L283.10 1168.60 L286.60 1168.30 L290.10 1168.10 L293.60 1167.80 L297.10 1167.40 L300.60 1167.10 L304.10 1166.80 L307.60 1166.40 L311.10 1166.00 L314.60 1165.70 L318.10 1165.30 L321.60 1164.90 L325.10 1164.50 L328.60 1164.10 L332.10 1163.70 L335.60 1163.20 L339.10 1162.80 L342.50 1162.40 L346.00 1162.00 L349.50 1161.50 L353.00 1161.10 L356.50 1160.60 L360.00 1160.20 L363.50 1159.80 L367.00 1159.30 L370.50 1158.90 L373.90 1158.50 L377.40 1158.00 L380.90 1157.60 L384.40 1157.20 L387.90 1156.80 L391.40 1156.40 L394.90 1155.90 L398.40 1155.60 L401.90 1155.20 L405.40 1154.80 L408.90 1154.40 L412.40 1154.10 L415.90 1153.70 L419.40 1153.40 L422.90 1153.10 L426.40 1152.80 L429.90 1152.50 L433.50 1152.20 L437.00 1152.00 L440.50 1151.80 L444.00 1151.60 L447.50 1151.40 L451.00 1151.30 L454.50 1151.20 L458.00 1151.10 L461.60 1151.10 L465.10 1151.10 L468.60 1151.10 L472.10 1151.20 L475.60 1151.30 L479.10 1151.40 L482.60 1151.50 L486.10 1151.70 L489.60 1151.90 L493.20 1152.10 L496.70 1152.40 L500.20 1152.60 L503.70 1152.90 L507.20 1153.20 L510.70 1153.50 L514.20 1153.80 L517.70 1154.10 L521.20 1154.40 L524.80 1154.80 L528.30 1155.10 L531.80 1155.50 L535.30 1155.80 L538.80 1156.10 L542.30 1156.50 L545.80 1156.80 L549.30 1157.20 L552.80 1157.50 L556.30 1157.80 L559.90 1158.10 L563.40 1158.40 L566.90 1158.70 L570.40 1159.00 L573.90 1159.20 L577.40 1159.50 L580.90 1159.70 L584.40 1160.00 L587.90 1160.20 L591.50 1160.40 L595.00 1160.60 L598.50 1160.80 L602.00 1161.00 L605.50 1161.20 L609.00 1161.40 L612.50 1161.60 L616.00 1161.70 L619.50 1161.90 L623.10 1162.00 L626.60 1162.10 L630.10 1162.20 L633.60 1162.30 L637.10 1162.40 L640.60 1162.50 L644.10 1162.60 L647.60 1162.70 L651.20 1162.70 L654.70 1162.80 L658.20 1162.80 L661.70 1162.90 L665.20 1162.90 L668.70 1162.90 L672.20 1162.90 L675.70 1162.90 L679.20 1162.90 L682.80 1162.90 L686.30 1162.90 L689.80 1162.80 L693.30 1162.80 L696.80 1162.70 L700.30 1162.60 L703.80 1162.60 L707.30 1162.50 L710.90 1162.40 L714.40 1162.30 L717.90 1162.20 L721.40 1162.10 L724.90 1162.00 L728.40 1161.80 L731.90 1161.70 L735.40 1161.50 L738.90 1161.40 L742.40 1161.20 L746.00 1161.00 L749.50 1160.80 L753.00 1160.60 L756.50 1160.40 L760.00 1160.20 L763.50 1160.00 L767.00 1159.80 L770.50 1159.50 L774.00 1159.30 L777.50 1159.00 L781.10 1158.80 L784.60 1158.50 L788.10 1158.20 L791.60 1157.90 L795.10 1157.60 L798.60 1157.30 L802.10 1157.00 L805.60 1156.70 L809.10 1156.40 L812.60 1156.00 L816.10 1155.70 L819.60 1155.30 L823.20 1155.00 L826.70 1154.60 L830.20 1154.20 L833.70 1153.90 L837.20 1153.50 L840.70 1153.10 L844.20 1152.70 L847.70 1152.30 L851.20 1151.90 L854.70 1151.60 L858.20 1151.20 L861.70 1150.80 L865.20 1150.40 L868.70 1150.10 L872.20 1149.70 L875.70 1149.40 L879.20 1149.00 L882.70 1148.70 L886.20 1148.40 L889.70 1148.10 L893.20 1147.80 L896.70 1147.50 L900.20 1147.30 L903.70 1147.00 L907.20 1146.80 L910.70 1146.60 L914.20 1146.40 L917.70 1146.30 L921.20 1146.10 L924.70 1146.00 L928.20 1145.90 L931.70 1145.90 L935.20 1145.80 L938.70 1145.80 L942.20 1145.90 L945.70 1145.90 L949.20 1146.00 L952.70 1146.10 L956.20 1146.30 L959.70 1146.40 L963.20 1146.60 L966.60 1146.80 L970.10 1147.10 L973.60 1147.30 L977.10 1147.60 L980.60 1147.90 L984.10 1148.20 L987.60 1148.50 L991.10 1148.90 L994.60 1149.20 L998.20 1149.60 L1001.70 1150.00 L1005.20 1150.40 L1008.70 1150.80 L1012.20 1151.20 L1015.70 1151.60 L1019.30 1152.00 L1022.80 1152.50 L1026.30 1152.90 L1029.90 1153.30 L1033.40 1153.70 L1037.00 1154.20 L1040.50 1154.60 L1044.10 1155.10 L1047.60 1155.60 L1051.10 1156.20 L1054.50 1156.80 L1057.90 1157.60 L1061.30 1158.50 L1064.60 1159.60 L1067.80 1160.90 L1070.90 1162.30 L1074.00 1164.00 L1076.90 1165.80 L1079.80 1167.70 L1082.60 1169.80 L1085.40 1172.00 L1088.10 1174.30 L1090.70 1176.70 L1093.30 1179.20 L1095.80 1181.70 L1098.30 1184.30 L1100.70 1186.90 L1103.10 1189.60 L1105.50 1192.20 L1107.80 1194.90 L1110.10 1197.60 L1112.40 1200.30 L1114.60 1203.00 L1116.80 1205.80 L1119.00 1208.50 L1121.10 1211.30 L1123.30 1214.10 L1125.40 1216.90 L1127.40 1219.80 L1129.50 1222.60 L1131.50 1225.50 L1133.60 1228.30 L1135.60 1231.20 L1137.60 1234.10 L1139.60 1237.00 L1141.50 1239.90 L1143.50 1242.80 L1145.40 1245.70 L1147.40 1248.60 L1149.30 1251.50 L1151.30 1254.40 L1153.20 1257.30 L1155.20 1260.20 L1157.10 1263.10 L1159.10 1266.10 L1161.00 1269.00 L1163.00 1271.90 L1165.00 1274.80 L1167.00 1277.60 L1168.90 1280.50 L1171.00 1283.40 L1173.00 1286.30 L1175.00 1289.10 L1177.10 1291.90 L1179.20 1294.80 L1181.30 1297.60 L1183.40 1300.40 L1185.50 1303.20 L1187.70 1305.90 L1189.90 1308.70 L1192.10 1311.40 L1194.40 1314.10 L1196.70 1316.80 L1199.10 1319.40 L1201.50 1322.00 L1203.90 1324.60 L1206.40 1327.10 L1209.00 1329.50 L1211.60 1331.80 L1214.30 1334.00 L1217.10 1336.20 L1220.00 1338.20 L1222.90 1340.10 L1226.00 1341.90 L1229.10 1343.50 L1232.30 1345.00 L1235.60 1346.40 L1238.90 1347.60 L1242.30 1348.60 L1245.80 1349.40 L1249.30 1350.10 L1252.80 1350.50 L1256.30 1350.80 L1259.90 1350.90 L1263.40 1350.70 L1267.00 1350.30 L1270.60 1349.80 L1274.10 1349.10 L1277.60 1348.10 L1281.00 1347.10 L1284.40 1345.80 L1287.70 1344.40 L1290.90 1342.90 L1294.00 1341.20 L1297.00 1339.40 L1299.90 1337.40 L1302.80 1335.40 L1305.50 1333.30 L1308.20 1331.00 L1310.90 1328.70 L1313.50 1326.30 L1316.10 1323.90 L1318.60 1321.40 L1321.10 1318.90 L1323.60 1316.30 L1326.00 1313.70 L1328.50 1311.20 L1330.90 1308.60 L1333.40 1306.00 L1335.90 1303.40 L1338.30 1300.90 L1340.90 1298.40 L1343.40 1295.90 L1346.00 1293.50 L1348.60 1291.20 L1351.30 1288.90 L1354.10 1286.80 L1356.90 1284.70 L1359.80 1282.70 L1362.70 1280.90 L1365.80 1279.20 L1368.90 1277.60 L1372.20 1276.20 L1375.50 1275.10 L1378.80 1274.30 L1382.20 1273.90 L1385.60 1274.00 L1389.10 1274.40 L1392.40 1275.20 L1395.70 1276.30 L1398.90 1277.70 L1401.90 1279.30 L1404.80 1281.10 L1407.50 1283.10 L1410.20 1285.30 L1412.70 1287.60 L1415.20 1290.10 L1417.60 1292.80 L1419.80 1295.50 L1422.10 1298.30 L1424.20 1301.20 L1426.30 1304.20 L1428.40 1307.20 L1430.40 1310.30 L1432.40 1313.30 L1434.40 1316.40 L1436.40 1319.40 L1438.40 1322.40 L1440.40 1325.40 L1442.40 1328.30 L1444.40 1331.20 L1446.40 1334.10 L1448.40 1337.00 L1450.40 1339.90 L1452.40 1342.70 L1454.40 1345.50 L1456.40 1348.30 L1458.50 1351.10 L1460.50 1353.90 L1462.50 1356.80 L1464.60 1359.60 L1466.60 1362.40 L1468.60 1365.20 L1470.70 1368.10 L1472.70 1370.90 L1474.80 1373.80 L1476.90 1376.70 L1479.00 1379.60 L1481.10 1382.40 L1483.30 1385.20 L1485.40 1388.00 L1487.70 1390.80 L1490.00 1393.50 L1492.30 1396.10 L1494.70 1398.70 L1497.20 1401.20 L1499.70 1403.70 L1502.30 1406.00 L1505.00 1408.20 L1507.70 1410.40 L1510.50 1412.50 L1513.40 1414.50 L1516.30 1416.40 L1519.20 1418.30 L1522.10 1420.20 L1525.00 1421.90 L1528.00 1423.70 L1530.90 1425.40 L1533.90 1427.00 L1536.90 1428.60 L1539.90 1430.20 L1543.00 1431.70 L1546.10 1433.20 L1549.30 1434.60 L1552.40 1436.00 L1555.70 1437.40 L1558.90 1438.60 L1562.10 1439.90 L1565.40 1441.00 L1568.70 1442.20 L1572.10 1443.20 L1575.40 1444.20 L1578.80 1445.10 L1582.10 1446.00 L1585.50 1446.90 L1588.90 1447.70 L1592.40 1448.40 L1595.80 1449.10 L1599.20 1449.80 L1602.70 1450.50 L1606.20 1451.10 L1609.60 1451.70 L1613.10 1452.20 L1616.60 1452.80 L1620.10 1453.30 L1623.50 1453.80 L1627.00 1454.30 L1630.50 1454.80 L1634.00 1455.30 L1637.50 1455.70 L1641.00 1456.20 L1644.50 1456.60 L1647.90 1457.00 L1651.40 1457.40 L1654.90 1457.80 L1658.40 1458.10 L1661.90 1458.50 L1665.40 1458.80 L1668.90 1459.20 L1672.40 1459.50 L1675.90 1459.80 L1679.40 1460.10 L1682.90 1460.40 L1686.40 1460.60 L1689.90 1460.90 L1693.50 1461.20 L1697.00 1461.40 L1700.50 1461.60 L1704.00 1461.80 L1707.50 1462.10 L1711.00 1462.30 L1714.50 1462.50 L1718.00 1462.60 L1721.50 1462.80 L1725.10 1463.00 L1728.60 1463.10 L1732.10 1463.30 L1735.60 1463.40 L1739.10 1463.60 L1742.60 1463.70 L1746.10 1463.80 L1749.70 1464.00 L1753.20 1464.10 L1756.70 1464.20 L1760.20 1464.30 L1763.70 1464.40 L1767.20 1464.50 L1770.80 1464.50 L1774.30 1464.60 L1777.80 1464.70 L1781.30 1464.80 L1784.80 1464.80 L1788.40 1464.90 L1791.90 1465.00 L1795.40 1465.00 L1798.90 1465.10 L1802.40 1465.10 L1805.90 1465.20 L1809.50 1465.20 L1813.00 1465.30 L1816.50 1465.30 L1820.00 1465.40" stroke="#ff0000" stroke-width="9.50"/>
</g>
<g fill="#000" stroke="#000">
<line x1="678.90" y1="579.30" x2="613.17" y2="645.09" stroke-width="11.70"/>
<line x1="587.72" y1="670.55" x2="578.74" y2="679.54" stroke-width="11.70"/>
<polygon stroke="none" points="554.50,703.80 566.89,666.28 592.01,691.38"/>
<line x1="908.60" y1="979.00" x2="997.16" y2="1010.50" stroke-width="11.70"/>
<line x1="1029.20" y1="1021.90" x2="1117.76" y2="1053.40" stroke-width="11.70"/>
<line x1="1149.79" y1="1064.80" x2="1227.68" y2="1092.50" stroke-width="11.70"/>
<polygon stroke="none" points="1260.00,1104.00 1220.79,1108.89 1232.69,1075.45"/>
</g>
<text class="cjk" x="529.25" y="769.02" font-size="54.60" text-anchor="middle" stroke="#000" stroke-width="1.30" stroke-linejoin="round">②</text>
<text class="cjk" x="1306.30" y="1163.02" font-size="54.60" text-anchor="middle" stroke="#000" stroke-width="1.30" stroke-linejoin="round">①</text>
<g stroke="#000" stroke-width="9.80" fill="none">
<rect x="260.25" y="118.00" width="1552.00" height="1359.90"/>
<line x1="415.45" y1="1477.90" x2="415.45" y2="1466.40"/>
<line x1="570.65" y1="1477.90" x2="570.65" y2="1455.90"/>
<line x1="725.85" y1="1477.90" x2="725.85" y2="1466.40"/>
<line x1="881.05" y1="1477.90" x2="881.05" y2="1455.90"/>
<line x1="1036.25" y1="1477.90" x2="1036.25" y2="1466.40"/>
<line x1="1191.45" y1="1477.90" x2="1191.45" y2="1455.90"/>
<line x1="1346.65" y1="1477.90" x2="1346.65" y2="1466.40"/>
<line x1="1501.85" y1="1477.90" x2="1501.85" y2="1455.90"/>
<line x1="1657.05" y1="1477.90" x2="1657.05" y2="1466.40"/>
<line x1="260.25" y1="1341.91" x2="271.75" y2="1341.91"/>
<line x1="260.25" y1="1205.92" x2="282.25" y2="1205.92"/>
<line x1="260.25" y1="1069.93" x2="271.75" y2="1069.93"/>
<line x1="260.25" y1="933.94" x2="282.25" y2="933.94"/>
<line x1="260.25" y1="797.95" x2="271.75" y2="797.95"/>
<line x1="260.25" y1="661.96" x2="282.25" y2="661.96"/>
<line x1="260.25" y1="525.97" x2="271.75" y2="525.97"/>
<line x1="260.25" y1="389.98" x2="282.25" y2="389.98"/>
<line x1="260.25" y1="253.99" x2="271.75" y2="253.99"/>
</g>
<g class="b" font-size="84.50">
<text x="260.25" y="1567.20" text-anchor="middle">300</text>
<text x="570.65" y="1567.20" text-anchor="middle">400</text>
<text x="881.05" y="1567.20" text-anchor="middle">500</text>
<text x="1191.45" y="1567.20" text-anchor="middle">600</text>
<text x="1501.85" y="1567.20" text-anchor="middle">700</text>
<text x="1812.25" y="1567.20" text-anchor="middle">800</text>
<text x="234.60" y="1502.90" text-anchor="end">0</text>
<text x="234.60" y="1230.92" text-anchor="end">5</text>
<text x="234.60" y="958.94" text-anchor="end">10</text>
<text x="234.60" y="686.96" text-anchor="end">15</text>
<text x="234.60" y="414.98" text-anchor="end">20</text>
<text x="234.60" y="143.00" text-anchor="end">25</text>
</g>
<text x="259" y="99.4" font-size="83.3"><tspan>×</tspan><tspan class="b">10</tspan><tspan class="b" font-size="58.3" dy="-32.4">4</tspan></text>
<text class="b" x="1036" y="1669" font-size="104.2" text-anchor="middle">λ(nm)</text>
<text class="b" transform="translate(117.0 797.75) rotate(-90)" font-size="104.2" text-anchor="middle" xml:space="preserve">Cross section ( nm<tspan font-size="70" dy="-42.5">2</tspan><tspan dy="42.5">)</tspan></text>
<line x1="793.20" y1="159.50" x2="968.60" y2="159.50" stroke="#00a0ff" stroke-width="10.00" stroke-linecap="round"/>
<rect x="963.60" y="154.50" width="10.00" height="10.00" fill="#00a0ff"/>
<line x1="793.20" y1="237.00" x2="968.60" y2="237.00" stroke="#00d08a" stroke-width="10.00" stroke-linecap="round"/>
<rect x="963.60" y="232.00" width="10.00" height="10.00" fill="#00d08a"/>
<line x1="793.20" y1="314.30" x2="968.60" y2="314.30" stroke="#ff8000" stroke-width="10.00" stroke-linecap="round"/>
<rect x="963.60" y="309.30" width="10.00" height="10.00" fill="#ff8000"/>
<line x1="793.20" y1="392.00" x2="968.60" y2="392.00" stroke="#ff0000" stroke-width="10.00" stroke-linecap="round"/>
<rect x="963.60" y="387.00" width="10.00" height="10.00" fill="#ff0000"/>
<text y="179.20" font-size="57.00"><tspan x="989.20" y="179.20" letter-spacing="-1.03">Simulated</tspan><tspan x="1227.80" y="179.20">C</tspan><tspan x="1266.00" y="193.60" font-size="37.80" letter-spacing="-0.33">Msca</tspan><tspan x="1361.40" y="179.20" letter-spacing="1.10">of</tspan><tspan x="1437.10" y="179.20" letter-spacing="0.25">SiO</tspan><tspan x="1524.80" y="193.60" font-size="37.80">2</tspan><tspan x="1558.10" y="179.20" letter-spacing="0.20">NPs</tspan></text>
<text y="256.70" font-size="57.00"><tspan x="989.20" y="256.70" letter-spacing="-1.03">Simulated</tspan><tspan x="1227.70" y="256.70">C</tspan><tspan x="1265.70" y="271.10" font-size="37.80" letter-spacing="0.03">Mbacksca</tspan><tspan x="1434.40" y="256.70" letter-spacing="1.10">of</tspan><tspan x="1510.00" y="256.70" letter-spacing="0.25">SiO</tspan><tspan x="1597.80" y="271.10" font-size="37.80">2</tspan><tspan x="1630.60" y="256.70">NPs</tspan></text>
<text y="334.20" font-size="57.00"><tspan x="989.20" y="334.20" letter-spacing="-1.03">Simulated</tspan><tspan x="1227.20" y="334.20">C</tspan><tspan x="1266.00" y="348.60" font-size="37.80">b</tspan><tspan x="1298.50" y="334.20" letter-spacing="0.50">of</tspan><tspan x="1356.20" y="334.20" letter-spacing="-0.62">coated</tspan><tspan x="1517.00" y="334.20" letter-spacing="-1.10">Fe</tspan><tspan x="1572.30" y="348.60" font-size="37.80">2</tspan><tspan x="1589.70" y="334.20">O</tspan><tspan x="1632.20" y="348.60" font-size="37.80">3</tspan><tspan x="1666.00" y="334.20" letter-spacing="0.85">NPs</tspan></text>
<text y="411.70" font-size="57.00"><tspan x="989.20" y="411.70" letter-spacing="-1.03">Simulated</tspan><tspan x="1227.20" y="411.70">C</tspan><tspan x="1265.00" y="426.10" font-size="37.80" letter-spacing="-0.15">abs</tspan><tspan x="1330.10" y="411.70" letter-spacing="0.40">of</tspan><tspan x="1388.50" y="411.70" letter-spacing="-0.94">coated</tspan><tspan x="1547.70" y="411.70" letter-spacing="-1.10">Fe</tspan><tspan x="1603.00" y="426.10" font-size="37.80">2</tspan><tspan x="1620.50" y="411.70">O</tspan><tspan x="1663.00" y="426.10" font-size="37.80">3</tspan><tspan x="1696.70" y="411.70" letter-spacing="0.85">NPs</tspan></text>
</svg>
</body></html>
